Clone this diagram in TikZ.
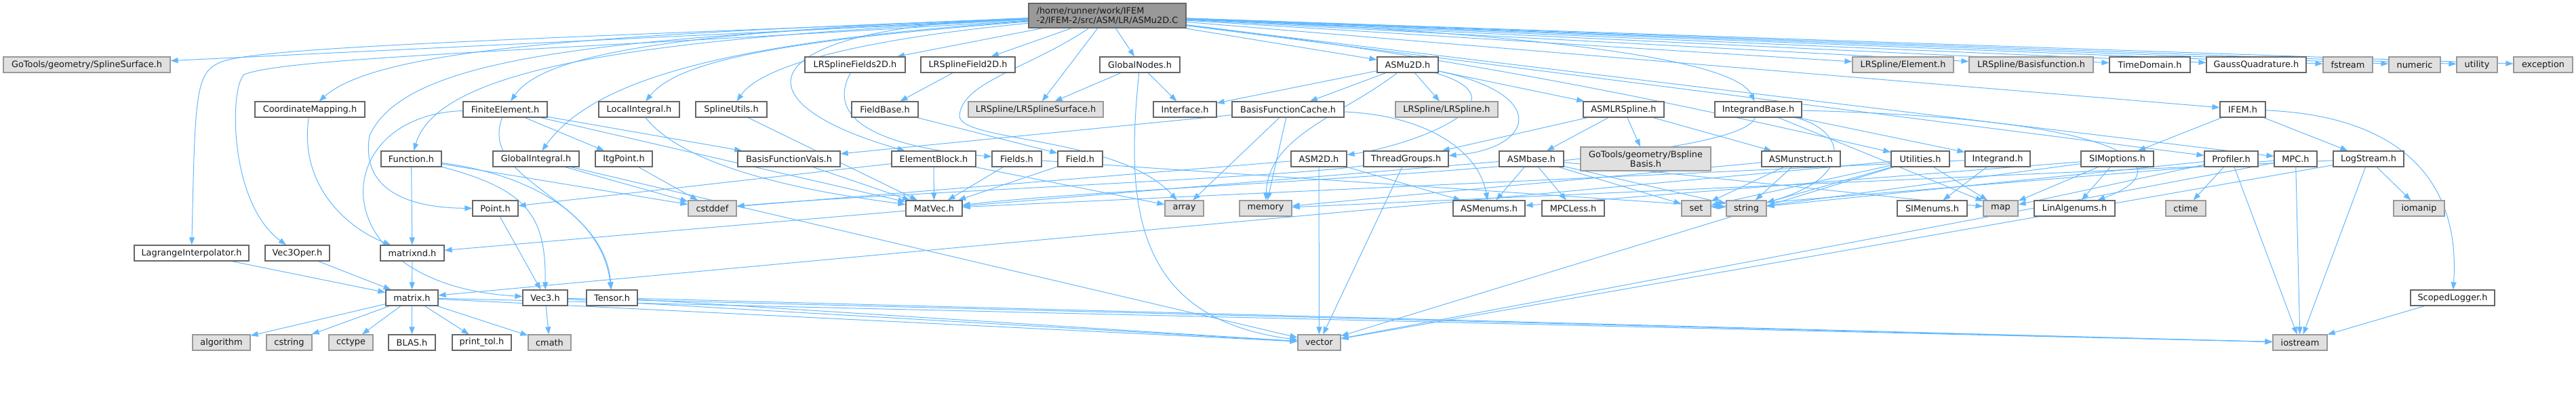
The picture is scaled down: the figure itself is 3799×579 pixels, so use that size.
\documentclass[tikz,border=0pt]{standalone}
\usepackage{fontspec}
\setmainfont{DejaVu Sans}
\usetikzlibrary{arrows.meta,backgrounds}
\definecolor{incline}{HTML}{63B8FF}
\definecolor{hdrdraw}{HTML}{666666}
\definecolor{sysdraw}{HTML}{999999}
\definecolor{sysfill}{HTML}{E0E0E0}
\definecolor{rootfill}{HTML}{999999}

\begin{document}
\begin{tikzpicture}[x=1pt,y=-1pt,font=\fontsize{12.9}{14.5}\selectfont,
  box/.style={rectangle,inner sep=0pt,minimum height=23pt,line width=1.2pt,text=black!90},
  hdr/.style={box,draw=hdrdraw,fill=white,minimum width=#1pt},
  sys/.style={box,draw=sysdraw,fill=sysfill,minimum width=#1pt},
  inc/.style={incline,line width=1pt,-{Triangle[length=11pt,width=8pt]}}]
  \useasboundingbox (0,0) rectangle (3799,579);

  % the file itself
  \node[box,draw=hdrdraw,fill=rootfill,minimum width=232pt,minimum height=36pt,align=left] (root) at (1633,23) {/home/runner/work/IFEM\\-2/IFEM-2/src/ASM/LR/ASMu2D.C};

  % first level
  \node[sys=246] (gss) at (128,95.5) {GoTools/geometry/SplineSurface.h};
  \node[hdr=148] (lrfs) at (1261,95.5) {LRSplineFields2D.h};
  \node[hdr=139] (lrf) at (1427.5,95.5) {LRSplineField2D.h};
  \node[hdr=118] (gnodes) at (1681,95.5) {GlobalNodes.h};
  \node[hdr=90] (asmu) at (2076,95.5) {ASMu2D.h};
  \node[sys=149] (lrel) at (2806.5,95.5) {LRSpline/Element.h};
  \node[sys=183] (lrbf) at (2995.5,95.5) {LRSpline/Basisfunction.h};
  \node[hdr=119] (tdom) at (3170.5,95.5) {TimeDomain.h};
  \node[hdr=147] (gauss) at (3327.5,95.5) {GaussQuadrature.h};
  \node[sys=73] (fstream) at (3462.5,95.5) {fstream};
  \node[sys=76] (numeric) at (3561,95.5) {numeric};
  \node[sys=60] (utility) at (3653,95.5) {utility};
  \node[sys=87] (exception) at (3750.5,95.5) {exception};

  \node[hdr=162] (cmap) at (457,161.5) {CoordinateMapping.h};
  \node[hdr=124] (fe) at (745,161.5) {FiniteElement.h};
  \node[hdr=119] (locint) at (942.5,161.5) {LocalIntegral.h};
  \node[hdr=105] (sputil) at (1078.5,161.5) {SplineUtils.h};
  \node[hdr=98] (fbase) at (1305,161.5) {FieldBase.h};
  \node[sys=199] (lrss) at (1527.5,161.5) {LRSpline/LRSplineSurface.h};
  \node[hdr=93] (iface) at (1747.5,161.5) {Interface.h};
  \node[hdr=165] (bfc) at (1899.5,161.5) {BasisFunctionCache.h};
  \node[sys=151] (lrspl) at (2133.5,161.5) {LRSpline/LRSpline.h};
  \node[hdr=119] (asmlr) at (2394.5,161.5) {ASMLRSpline.h};
  \node[hdr=128] (intbase) at (2593,161.5) {IntegrandBase.h};
  \node[hdr=67] (ifem) at (3307.5,161.5) {IFEM.h};

  \node[hdr=89] (func) at (606.5,234.5) {Function.h};
  \node[hdr=127] (globint) at (790.5,234.5) {GlobalIntegral.h};
  \node[hdr=84] (itg) at (920,234.5) {ItgPoint.h};
  \node[hdr=151] (bfv) at (1163.5,234.5) {BasisFunctionVals.h};
  \node[hdr=124] (eblk) at (1377,234.5) {ElementBlock.h};
  \node[hdr=73] (fields) at (1499.5,234.5) {Fields.h};
  \node[hdr=66] (field) at (1593,234.5) {Field.h};
  \node[hdr=82] (asm2d) at (1945,234.5) {ASM2D.h};
  \node[hdr=125] (thr) at (2073.5,234.5) {ThreadGroups.h};
  \node[hdr=95] (asmb) at (2258.5,234.5) {ASMbase.h};
  \node[sys=192,minimum height=35pt,align=center] (gbb) at (2427,234.5) {GoTools/geometry/Bspline\\Basis.h};
  \node[hdr=116] (asmun) at (2656,234.5) {ASMunstruct.h};
  \node[hdr=86] (util) at (2832,234.5) {Utilities.h};
  \node[hdr=96] (integ) at (2946,234.5) {Integrand.h};
  \node[hdr=107] (simopt) at (3122.5,234.5) {SIMoptions.h};
  \node[hdr=79] (prof) at (3290.5,234.5) {Profiler.h};
  \node[hdr=63] (mpc) at (3385.5,234.5) {MPC.h};
  \node[hdr=104] (logs) at (3493,234.5) {LogStream.h};

  \node[hdr=67] (point) at (730.5,307.5) {Point.h};
  \node[sys=71] (cstddef) at (1050.5,307.5) {cstddef};
  \node[hdr=83] (matvec) at (1377.5,307.5) {MatVec.h};
  \node[sys=57] (array) at (1746.5,307.5) {array};
  \node[sys=77] (memory) at (1866.5,307.5) {memory};
  \node[hdr=106] (asmen) at (2196,307.5) {ASMenums.h};
  \node[hdr=92] (mpcless) at (2320,307.5) {MPCLess.h};
  \node[sys=43] (set) at (2501.5,307.5) {set};
  \node[sys=59] (string) at (2575.5,307.5) {string};
  \node[hdr=103] (simen) at (2849.5,307.5) {SIMenums.h};
  \node[sys=51] (map) at (2950.5,307.5) {map};
  \node[hdr=119] (linalg) at (3059.5,307.5) {LinAlgenums.h};
  \node[sys=59] (ctime) at (3223.5,307.5) {ctime};
  \node[sys=75] (iomanip) at (3567.5,307.5) {iomanip};

  \node[hdr=169] (lagr) at (282.5,373.5) {LagrangeInterpolator.h};
  \node[hdr=95] (v3op) at (438.5,373.5) {Vec3Oper.h};
  \node[hdr=94] (mnd) at (608,373.5) {matrixnd.h};

  \node[hdr=77] (matrix) at (607.5,439.5) {matrix.h};
  \node[hdr=66] (vec3) at (804,439.5) {Vec3.h};
  \node[hdr=75] (tensor) at (902.5,439.5) {Tensor.h};
  \node[hdr=124] (slog) at (3617,439.5) {ScopedLogger.h};

  \node[sys=85] (algorithm) at (326.5,505.5) {algorithm};
  \node[sys=67] (cstring) at (426.5,505.5) {cstring};
  \node[sys=65] (cctype) at (517.5,505.5) {cctype};
  \node[hdr=69] (blas) at (607.5,505.5) {BLAS.h};
  \node[hdr=87] (printtol) at (710.5,505.5) {print\_tol.h};
  \node[sys=63] (cmath) at (810.5,505.5) {cmath};
  \node[sys=63] (vector) at (1945.5,505.5) {vector};
  \node[sys=80] (iostream) at (3392,505.5) {iostream};

  \begin{scope}[on background layer]
  % includes of the file itself
  \draw[inc] (root) -- (gss);
  \draw[inc] (root) -- (lrfs);
  \draw[inc] (root) -- (lrf);
  \draw[inc] (root) -- (gnodes);
  \draw[inc] (root) -- (asmu);
  \draw[inc] (root) -- (lrss);
  \draw[inc] (root) -- (lrel);
  \draw[inc] (root) -- (lrbf);
  \draw[inc] (root) -- (tdom);
  \draw[inc] (root) -- (gauss);
  \draw[inc] (root) -- (fstream);
  \draw[inc] (root) -- (numeric);
  \draw[inc] (root) -- (utility);
  \draw[inc] (root) -- (exception);
  \draw[inc] (root) -- (ifem);
  \draw[inc] (root) -- (prof);
  \draw[inc] (root) -- (mpc);
  \draw[inc] (root) .. controls (900,50) and (560,70) .. (cmap);
  \draw[inc] (root) .. controls (1000,45) and (800,80) .. (fe);
  \draw[inc] (root) .. controls (1150,60) and (1000,90) .. (locint);
  \draw[inc] (root) .. controls (1250,60) and (1120,100) .. (sputil);
  \draw[inc] (root) .. controls (1000,55) and (650,90) .. (func);
  \draw[inc] (root) .. controls (1100,60) and (880,110) .. (globint);
  \draw[inc] (root) .. controls (900,55) and (600,80) .. (545,200) .. controls (530,290) and (620,307) .. (point);
  \draw[inc] (root) .. controls (700,60) and (400,70) .. (330,90) .. controls (288,105) and (288,130) .. (lagr);
  \draw[inc] (root) .. controls (800,75) and (420,85) .. (360,110) .. controls (338,130) and (338,300) .. (v3op);
  \draw[inc] (root) .. controls (1100,40) and (1080,150) .. (eblk);
  \draw[inc] (root) .. controls (2200,90) and (2550,170) .. (util);
  \draw[inc] (root) .. controls (2300,50) and (2560,90) .. (intbase);
  \draw[inc] (root) .. controls (1520,100) and (1420,120) .. (1415,170) .. controls (1412,210) and (1650,200) .. (array);

  % second level
  \draw[inc] (gnodes) -- (lrss);
  \draw[inc] (gnodes) -- (iface);
  \draw[inc] (gnodes) .. controls (1660,300) and (1670,470) .. (vector);
  \draw[inc] (lrfs) .. controls (1220,170) and (1280,215) .. (fields);
  \draw[inc] (lrf) -- (fbase);
  \draw[inc] (fbase) -- (field);
  \draw[inc] (cmap) .. controls (440,280) and (520,340) .. (mnd);
  \draw[inc] (fe) -- (itg);
  \draw[inc] (fe) -- (bfv);
  \draw[inc] (fe) -- (matvec);
  \draw[inc] (fe) .. controls (480,170) and (470,420) .. (vec3);
  \draw[inc] (fe) .. controls (705,270) and (890,290) .. (tensor);
  \draw[inc] (locint) .. controls (1020,260) and (1250,290) .. (matvec);
  \draw[inc] (sputil) -- (matvec);
  \draw[inc] (asmu) -- (lrspl);
  \draw[inc] (asmu) -- (asmlr);
  \draw[inc] (asmu) -- (iface);
  \draw[inc] (asmu) -- (bfc);
  \draw[inc] (asmu) .. controls (1980,170) and (1870,200) .. (memory);
  \draw[inc] (asmu) .. controls (2290,140) and (2260,220) .. (thr);
  \draw[inc] (asmu) .. controls (2260,150) and (2080,215) .. (asm2d);
  \draw[inc] (bfc) -- (array);
  \draw[inc] (bfc) -- (memory);
  \draw[inc] (bfc) -- (bfv);
  \draw[inc] (bfc) .. controls (2100,170) and (2180,220) .. (asmen);
  \draw[inc] (asmlr) -- (asmb);
  \draw[inc] (asmlr) -- (gbb);
  \draw[inc] (asmlr) -- (asmun);
  \draw[inc] (asmlr) -- (thr);
  \draw[inc] (intbase) -- (integ);
  \draw[inc] (intbase) -- (map);
  \draw[inc] (intbase) .. controls (2720,190) and (2740,260) .. (string);
  \draw[inc] (intbase) .. controls (3150,175) and (3220,250) .. (linalg);
  \draw[inc] (intbase) .. controls (2560,250) and (1700,270) .. (matvec);
  \draw[inc] (ifem) -- (simopt);
  \draw[inc] (ifem) -- (logs);
  \draw[inc] (ifem) .. controls (3520,170) and (3630,250) .. (slog);

  % third level
  \draw[inc] (func) -- (mnd);
  \draw[inc] (func) -- (cstddef);
  \draw[inc] (func) .. controls (780,280) and (805,320) .. (vec3);
  \draw[inc] (func) .. controls (800,260) and (890,330) .. (tensor);
  \draw[inc] (globint) -- (cstddef);
  \draw[inc] (globint) -- (vector);
  \draw[inc] (itg) -- (cstddef);
  \draw[inc] (bfv) -- (matvec);
  \draw[inc] (eblk) -- (matvec);
  \draw[inc] (eblk) -- (point);
  \draw[inc] (eblk) -- (array);
  \draw[inc] (fields) -- (matvec);
  \draw[inc] (fields) -- (string);
  \draw[inc] (field) -- (matvec);
  \draw[inc] (asm2d) -- (cstddef);
  \draw[inc] (asm2d) -- (asmen);
  \draw[inc] (asm2d) -- (vector);
  \draw[inc] (thr) .. controls (1900,262) and (1300,285) .. (cstddef);
  \draw[inc] (thr) -- (vector);
  \draw[inc] (asmb) -- (asmen);
  \draw[inc] (asmb) -- (mpcless);
  \draw[inc] (asmb) -- (set);
  \draw[inc] (asmb) -- (string);
  \draw[inc] (asmb) -- (map);
  \draw[inc] (asmb) -- (matvec);
  \draw[inc] (asmun) -- (set);
  \draw[inc] (asmun) -- (string);
  \draw[inc] (asmun) -- (memory);
  \draw[inc] (util) -- (set);
  \draw[inc] (util) -- (string);
  \draw[inc] (util) -- (map);
  \draw[inc] (util) -- (vector);
  \draw[inc] (util) -- (matrix);
  \draw[inc] (integ) -- (simen);
  \draw[inc] (integ) -- (matvec);
  \draw[inc] (simopt) -- (map);
  \draw[inc] (simopt) -- (linalg);
  \draw[inc] (simopt) -- (asmen);
  \draw[inc] (simopt) -- (string);
  \draw[inc] (prof) -- (ctime);
  \draw[inc] (prof) -- (iostream);
  \draw[inc] (prof) -- (map);
  \draw[inc] (prof) -- (string);
  \draw[inc] (mpc) -- (iostream);
  \draw[inc] (mpc) -- (set);
  \draw[inc] (mpc) -- (vector);
  \draw[inc] (logs) -- (iomanip);
  \draw[inc] (logs) -- (iostream);
  \draw[inc] (logs) -- (memory);
  \draw[inc] (logs) -- (vector);

  % lower levels
  \draw[inc] (matvec) -- (mnd);
  \draw[inc] (point) -- (vec3);
  \draw[inc] (lagr) -- (matrix);
  \draw[inc] (v3op) -- (matrix);
  \draw[inc] (mnd) -- (matrix);
  \draw[inc] (slog) -- (iostream);
  \draw[inc] (matrix) -- (algorithm);
  \draw[inc] (matrix) -- (cstring);
  \draw[inc] (matrix) -- (cctype);
  \draw[inc] (matrix) -- (blas);
  \draw[inc] (matrix) -- (printtol);
  \draw[inc] (matrix) -- (cmath);
  \draw[inc] (matrix) -- (vector);
  \draw[inc] (matrix) -- (iostream);
  \draw[inc] (vec3) -- (cmath);
  \draw[inc] (vec3) -- (vector);
  \draw[inc] (vec3) -- (iostream);
  \draw[inc] (tensor) -- (vector);
  \draw[inc] (tensor) -- (iostream);
  \end{scope}
\end{tikzpicture}
\end{document}
